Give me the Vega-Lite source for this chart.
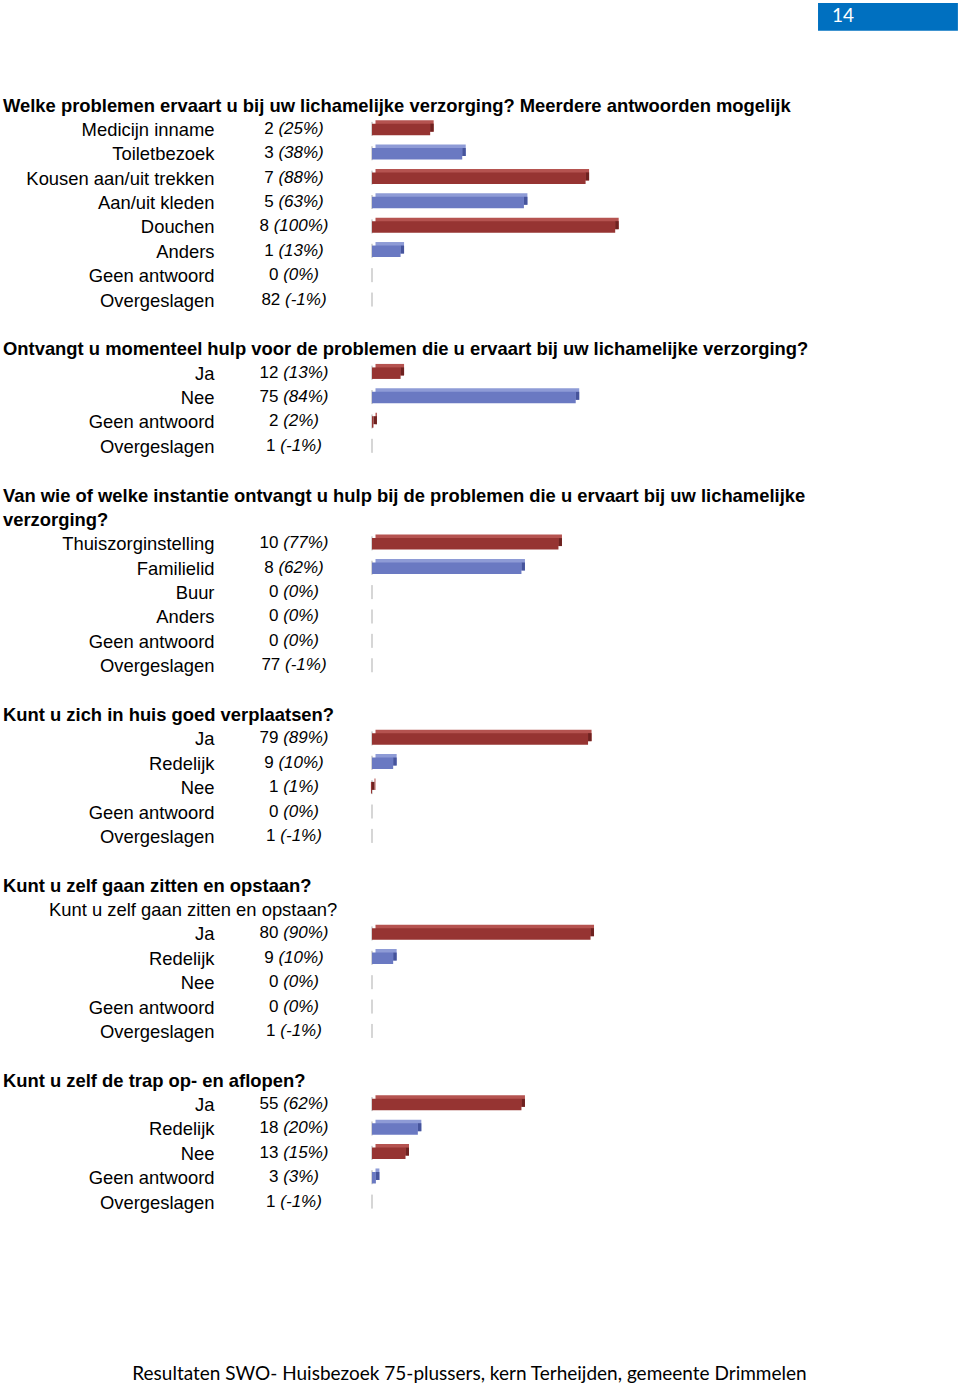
{
  "$schema": "https://vega.github.io/schema/vega-lite/v6.json",
  "width": 960,
  "height": 1388,
  "autosize": {"type": "fit", "contains": "padding"},
  "padding": 0,
  "background": "white",
  "config": {"view": {"stroke": null}, "font": "Liberation Sans", "scale": {"continuousPadding": 0}},
  "resolve": {"scale": {"color": "independent"}},
  "datasets": {
    "items": [
      {"line": 1, "idx": 1, "label": "Medicijn inname", "count": 2, "pct": 25, "pctText": "(25%)"},
      {"line": 2, "idx": 2, "label": "Toiletbezoek", "count": 3, "pct": 38, "pctText": "(38%)"},
      {"line": 3, "idx": 3, "label": "Kousen aan/uit trekken", "count": 7, "pct": 88, "pctText": "(88%)"},
      {"line": 4, "idx": 4, "label": "Aan/uit kleden", "count": 5, "pct": 63, "pctText": "(63%)"},
      {"line": 5, "idx": 5, "label": "Douchen", "count": 8, "pct": 100, "pctText": "(100%)"},
      {"line": 6, "idx": 6, "label": "Anders", "count": 1, "pct": 13, "pctText": "(13%)"},
      {"line": 7, "idx": 7, "label": "Geen antwoord", "count": 0, "pct": 0, "pctText": "(0%)"},
      {"line": 8, "idx": 8, "label": "Overgeslagen", "count": 82, "pct": -1, "pctText": "(-1%)"},
      {"line": 11, "idx": 1, "label": "Ja", "count": 12, "pct": 13, "pctText": "(13%)"},
      {"line": 12, "idx": 2, "label": "Nee", "count": 75, "pct": 84, "pctText": "(84%)"},
      {"line": 13, "idx": 3, "label": "Geen antwoord", "count": 2, "pct": 2, "pctText": "(2%)"},
      {"line": 14, "idx": 4, "label": "Overgeslagen", "count": 1, "pct": -1, "pctText": "(-1%)"},
      {"line": 18, "idx": 1, "label": "Thuiszorginstelling", "count": 10, "pct": 77, "pctText": "(77%)"},
      {"line": 19, "idx": 2, "label": "Familielid", "count": 8, "pct": 62, "pctText": "(62%)"},
      {"line": 20, "idx": 3, "label": "Buur", "count": 0, "pct": 0, "pctText": "(0%)"},
      {"line": 21, "idx": 4, "label": "Anders", "count": 0, "pct": 0, "pctText": "(0%)"},
      {"line": 22, "idx": 5, "label": "Geen antwoord", "count": 0, "pct": 0, "pctText": "(0%)"},
      {"line": 23, "idx": 6, "label": "Overgeslagen", "count": 77, "pct": -1, "pctText": "(-1%)"},
      {"line": 26, "idx": 1, "label": "Ja", "count": 79, "pct": 89, "pctText": "(89%)"},
      {"line": 27, "idx": 2, "label": "Redelijk", "count": 9, "pct": 10, "pctText": "(10%)"},
      {"line": 28, "idx": 3, "label": "Nee", "count": 1, "pct": 1, "pctText": "(1%)"},
      {"line": 29, "idx": 4, "label": "Geen antwoord", "count": 0, "pct": 0, "pctText": "(0%)"},
      {"line": 30, "idx": 5, "label": "Overgeslagen", "count": 1, "pct": -1, "pctText": "(-1%)"},
      {"line": 34, "idx": 1, "label": "Ja", "count": 80, "pct": 90, "pctText": "(90%)"},
      {"line": 35, "idx": 2, "label": "Redelijk", "count": 9, "pct": 10, "pctText": "(10%)"},
      {"line": 36, "idx": 3, "label": "Nee", "count": 0, "pct": 0, "pctText": "(0%)"},
      {"line": 37, "idx": 4, "label": "Geen antwoord", "count": 0, "pct": 0, "pctText": "(0%)"},
      {"line": 38, "idx": 5, "label": "Overgeslagen", "count": 1, "pct": -1, "pctText": "(-1%)"},
      {"line": 41, "idx": 1, "label": "Ja", "count": 55, "pct": 62, "pctText": "(62%)"},
      {"line": 42, "idx": 2, "label": "Redelijk", "count": 18, "pct": 20, "pctText": "(20%)"},
      {"line": 43, "idx": 3, "label": "Nee", "count": 13, "pct": 15, "pctText": "(15%)"},
      {"line": 44, "idx": 4, "label": "Geen antwoord", "count": 3, "pct": 3, "pctText": "(3%)"},
      {"line": 45, "idx": 5, "label": "Overgeslagen", "count": 1, "pct": -1, "pctText": "(-1%)"}
    ],
    "titles": [
      {"line": 0, "text": "Welke problemen ervaart u bij uw lichamelijke verzorging? Meerdere antwoorden mogelijk"},
      {"line": 10, "text": "Ontvangt u momenteel hulp voor de problemen die u ervaart bij uw lichamelijke verzorging?"},
      {"line": 16, "text": "Van wie of welke instantie ontvangt u hulp bij de problemen die u ervaart bij uw lichamelijke"},
      {"line": 17, "text": "verzorging?"},
      {"line": 25, "text": "Kunt u zich in huis goed verplaatsen?"},
      {"line": 32, "text": "\u00a0Kunt u zelf gaan zitten en opstaan?"},
      {"line": 40, "text": "Kunt u zelf de trap op- en aflopen?"}
    ],
    "subtitles": [
      {"line": 33, "text": "Kunt u zelf gaan zitten en opstaan?"}
    ]
  },
  "layer": [
    {
      "data": {"name": "items"},
      "mark": {"type": "tick", "orient": "vertical", "size": 14, "thickness": 2, "color": "#c4c4c4", "yOffset": 0.5},
      "encoding": {
        "x": {"datum": 0, "type": "quantitative", "scale": {"domain": [-150.79, 238.35], "nice": false, "zero": false, "padding": 0}, "axis": null},
        "y": {"field": "line", "type": "quantitative", "scale": {"domain": [-4.2658, 52.666], "reverse": true, "nice": false, "zero": false, "padding": 0}, "axis": null}
      }
    },
    {
      "data": {"name": "items"},
      "transform": [{"filter": "datum.pct > 0"}],
      "mark": {"type": "bar", "orient": "horizontal", "size": 11.5, "yOffset": -2.5, "x2Offset": 3.5},
      "encoding": {
        "x": {"field": "pct", "type": "quantitative", "scale": {"domain": [-150.79, 238.35], "nice": false, "zero": false, "padding": 0}, "axis": null},
        "x2": {"datum": 0},
        "y": {"field": "line", "type": "quantitative", "scale": {"domain": [-4.2658, 52.666], "reverse": true, "nice": false, "zero": false, "padding": 0}, "axis": null},
        "color": {"field": "idx", "type": "nominal", "scale": {"domain": [1, 2, 3, 4, 5, 6, 7, 8], "range": ["#b55350", "#8e9bd6", "#b55350", "#8e9bd6", "#b55350", "#8e9bd6", "#b55350", "#8e9bd6"]}, "legend": null}
      }
    },
    {
      "data": {"name": "items"},
      "transform": [{"filter": "datum.pct > 0"}],
      "mark": {"type": "bar", "orient": "horizontal", "size": 8, "yOffset": -0.75, "xOffset": -3.5},
      "encoding": {
        "x": {"field": "pct", "type": "quantitative", "scale": {"domain": [-150.79, 238.35], "nice": false, "zero": false, "padding": 0}, "axis": null},
        "x2": {"field": "pct"},
        "y": {"field": "line", "type": "quantitative", "scale": {"domain": [-4.2658, 52.666], "reverse": true, "nice": false, "zero": false, "padding": 0}, "axis": null},
        "color": {"field": "idx", "type": "nominal", "scale": {"domain": [1, 2, 3, 4, 5, 6, 7, 8], "range": ["#6e2220", "#46549c", "#6e2220", "#46549c", "#6e2220", "#46549c", "#6e2220", "#46549c"]}, "legend": null}
      }
    },
    {
      "data": {"name": "items"},
      "transform": [{"filter": "datum.pct > 0"}],
      "mark": {"type": "bar", "orient": "horizontal", "size": 11.5, "yOffset": 1, "xOffset": -3.5},
      "encoding": {
        "x": {"field": "pct", "type": "quantitative", "scale": {"domain": [-150.79, 238.35], "nice": false, "zero": false, "padding": 0}, "axis": null},
        "x2": {"datum": 0},
        "y": {"field": "line", "type": "quantitative", "scale": {"domain": [-4.2658, 52.666], "reverse": true, "nice": false, "zero": false, "padding": 0}, "axis": null},
        "color": {"field": "idx", "type": "nominal", "scale": {"domain": [1, 2, 3, 4, 5, 6, 7, 8], "range": ["#963432", "#6a79c2", "#963432", "#6a79c2", "#963432", "#6a79c2", "#963432", "#6a79c2"]}, "legend": null}
      }
    },
    {
      "data": {"name": "items"},
      "mark": {"type": "text", "align": "right", "baseline": "middle", "dx": -157.5, "dy": 1.5, "fontSize": 18.4, "color": "#000000"},
      "encoding": {
        "x": {"datum": 0, "type": "quantitative", "scale": {"domain": [-150.79, 238.35], "nice": false, "zero": false, "padding": 0}, "axis": null},
        "y": {"field": "line", "type": "quantitative", "scale": {"domain": [-4.2658, 52.666], "reverse": true, "nice": false, "zero": false, "padding": 0}, "axis": null},
        "text": {"field": "label"}
      }
    },
    {
      "data": {"name": "items"},
      "mark": {"type": "text", "align": "right", "baseline": "middle", "dy": 0.5, "fontSize": 17, "color": "#000000",
        "dx": {"expr": "-78 - (length(''+datum.count)*9.452 + 4.726 + 17*(1.555 + 0.556*(length(datum.pctText)-3) - (indexof(datum.pctText,'-')>=0 ? 0.223 : 0)))/2 + length(''+datum.count)*9.452"}},
      "encoding": {
        "x": {"datum": 0, "type": "quantitative", "scale": {"domain": [-150.79, 238.35], "nice": false, "zero": false, "padding": 0}, "axis": null},
        "y": {"field": "line", "type": "quantitative", "scale": {"domain": [-4.2658, 52.666], "reverse": true, "nice": false, "zero": false, "padding": 0}, "axis": null},
        "text": {"field": "count"}
      }
    },
    {
      "data": {"name": "items"},
      "mark": {"type": "text", "align": "left", "baseline": "middle", "dy": 0.5, "fontSize": 17, "fontStyle": "italic", "color": "#000000",
        "dx": {"expr": "-78 - (length(''+datum.count)*9.452 + 4.726 + 17*(1.555 + 0.556*(length(datum.pctText)-3) - (indexof(datum.pctText,'-')>=0 ? 0.223 : 0)))/2 + length(''+datum.count)*9.452 + 4.726"}},
      "encoding": {
        "x": {"datum": 0, "type": "quantitative", "scale": {"domain": [-150.79, 238.35], "nice": false, "zero": false, "padding": 0}, "axis": null},
        "y": {"field": "line", "type": "quantitative", "scale": {"domain": [-4.2658, 52.666], "reverse": true, "nice": false, "zero": false, "padding": 0}, "axis": null},
        "text": {"field": "pctText"}
      }
    },
    {
      "data": {"name": "titles"},
      "mark": {"type": "text", "align": "left", "baseline": "middle", "dx": -369, "dy": 1.5, "fontSize": 18.4, "fontWeight": "bold", "color": "#000000"},
      "encoding": {
        "x": {"datum": 0, "type": "quantitative", "scale": {"domain": [-150.79, 238.35], "nice": false, "zero": false, "padding": 0}, "axis": null},
        "y": {"field": "line", "type": "quantitative", "scale": {"domain": [-4.2658, 52.666], "reverse": true, "nice": false, "zero": false, "padding": 0}, "axis": null},
        "text": {"field": "text"}
      }
    },
    {
      "data": {"name": "subtitles"},
      "mark": {"type": "text", "align": "left", "baseline": "middle", "dx": -323, "dy": 1.5, "fontSize": 18.4, "color": "#000000"},
      "encoding": {
        "x": {"datum": 0, "type": "quantitative", "scale": {"domain": [-150.79, 238.35], "nice": false, "zero": false, "padding": 0}, "axis": null},
        "y": {"field": "line", "type": "quantitative", "scale": {"domain": [-4.2658, 52.666], "reverse": true, "nice": false, "zero": false, "padding": 0}, "axis": null},
        "text": {"field": "text"}
      }
    },
    {
      "data": {"values": [{"page": "14"}]},
      "mark": {"type": "rect", "color": "#0070c0"},
      "encoding": {
        "x": {"datum": 180.8, "type": "quantitative", "scale": {"domain": [-150.79, 238.35], "nice": false, "zero": false, "padding": 0}, "axis": null},
        "x2": {"datum": 237.5},
        "y": {"datum": -4.143, "type": "quantitative", "scale": {"domain": [-4.2658, 52.666], "reverse": true, "nice": false, "zero": false, "padding": 0}, "axis": null},
        "y2": {"datum": -3.007}
      }
    },
    {
      "data": {"values": [{"page": "14"}]},
      "mark": {"type": "text", "align": "left", "baseline": "middle", "font": "Lato", "fontSize": 19, "color": "#ffffff"},
      "encoding": {
        "x": {"datum": 186.46, "type": "quantitative", "scale": {"domain": [-150.79, 238.35], "nice": false, "zero": false, "padding": 0}, "axis": null},
        "y": {"datum": -3.61, "type": "quantitative", "scale": {"domain": [-4.2658, 52.666], "reverse": true, "nice": false, "zero": false, "padding": 0}, "axis": null},
        "text": {"field": "page"}
      }
    },
    {
      "data": {"values": [{"footer": "Resultaten SWO- Huisbezoek 75-plussers, kern Terheijden,  gemeente Drimmelen"}]},
      "mark": {"type": "text", "align": "center", "baseline": "middle", "font": "Lato", "fontSize": 19, "color": "#000000"},
      "encoding": {
        "x": {"datum": 39.5, "type": "quantitative", "scale": {"domain": [-150.79, 238.35], "nice": false, "zero": false, "padding": 0}, "axis": null},
        "y": {"datum": 52.09, "type": "quantitative", "scale": {"domain": [-4.2658, 52.666], "reverse": true, "nice": false, "zero": false, "padding": 0}, "axis": null},
        "text": {"field": "footer"}
      }
    }
  ]
}
